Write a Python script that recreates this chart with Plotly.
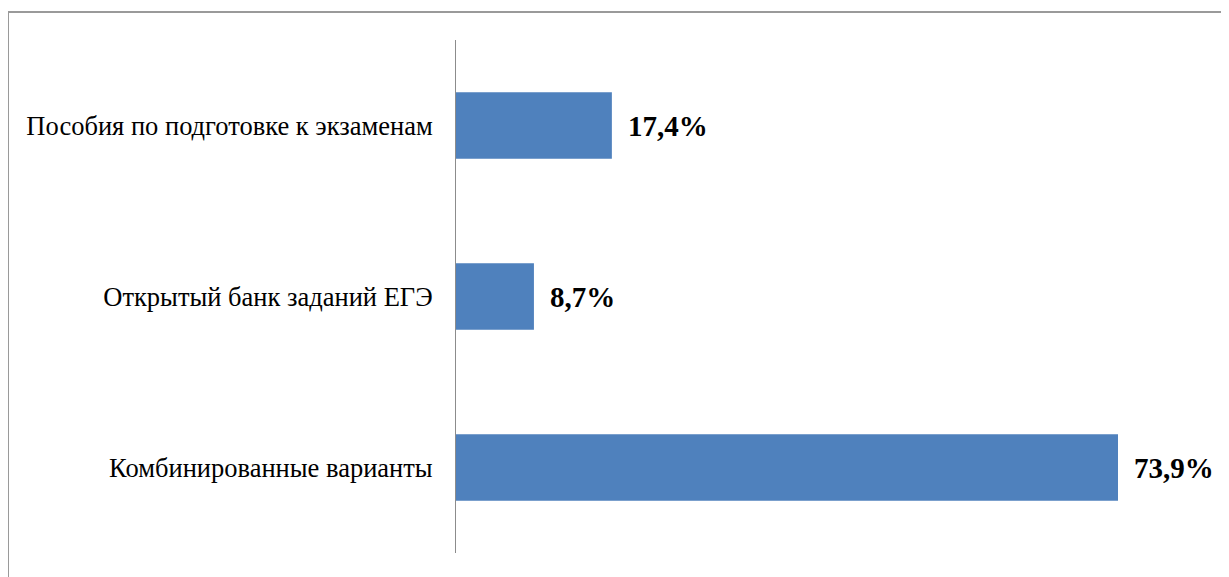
import plotly.graph_objects as go

categories = ["Комбинированные варианты", "Открытый банк заданий ЕГЭ", "Пособия по подготовке к экзаменам"]
values = [73.9, 8.7, 17.4]
labels = ["73,9%", "8,7%", "17,4%"]

OFF = 8  # page body margin
W, H = 1229 - OFF, 577 - OFF
L, R, T, B = 456 - OFF, 29 - OFF, 40 - OFF, 24
pw, ph = W - L - R, H - T - B
xmax = pw / 8.958
SERIF = "Liberation Serif"

fig = go.Figure(go.Bar(
    x=values, y=categories, orientation="h",
    marker=dict(color="#4F81BD", line=dict(width=0)),
    width=0.39, hoverinfo="skip",
))

for v, c, t in zip(values, categories, labels):
    fig.add_annotation(x=v, y=c, text="<b>%s</b>" % t, showarrow=False, xanchor="left", yanchor="middle",
                       xshift=14, font=dict(family=SERIF, size=29, color="black"))

def px_x(p):
    return (p - OFF - L) / pw

def px_y(p):
    return (H - B - (p - OFF)) / ph

fig.add_shape(type="rect", xref="paper", yref="paper",
              x0=px_x(8), x1=px_x(1240), y0=px_y(12), y1=px_y(590),
              line=dict(color="#9A9A9A", width=2), layer="below")

fig.update_layout(
    width=W, height=H,
    margin=dict(l=L, r=R, t=T, b=B),
    paper_bgcolor="white", plot_bgcolor="white",
    showlegend=False,
    font=dict(family=SERIF, size=26.5, color="black"),
    xaxis=dict(range=[0, xmax], showgrid=False, zeroline=False, showticklabels=False,
               showline=False, ticks=""),
    yaxis=dict(showgrid=False, zeroline=False, showline=True, linecolor="#8C8C8C", linewidth=1,
               ticks="", ticklabelstandoff=17, range=[-0.5, 2.5],
               tickfont=dict(family=SERIF, size=26.5, color="black")),
)

fig.write_html("out.html")
